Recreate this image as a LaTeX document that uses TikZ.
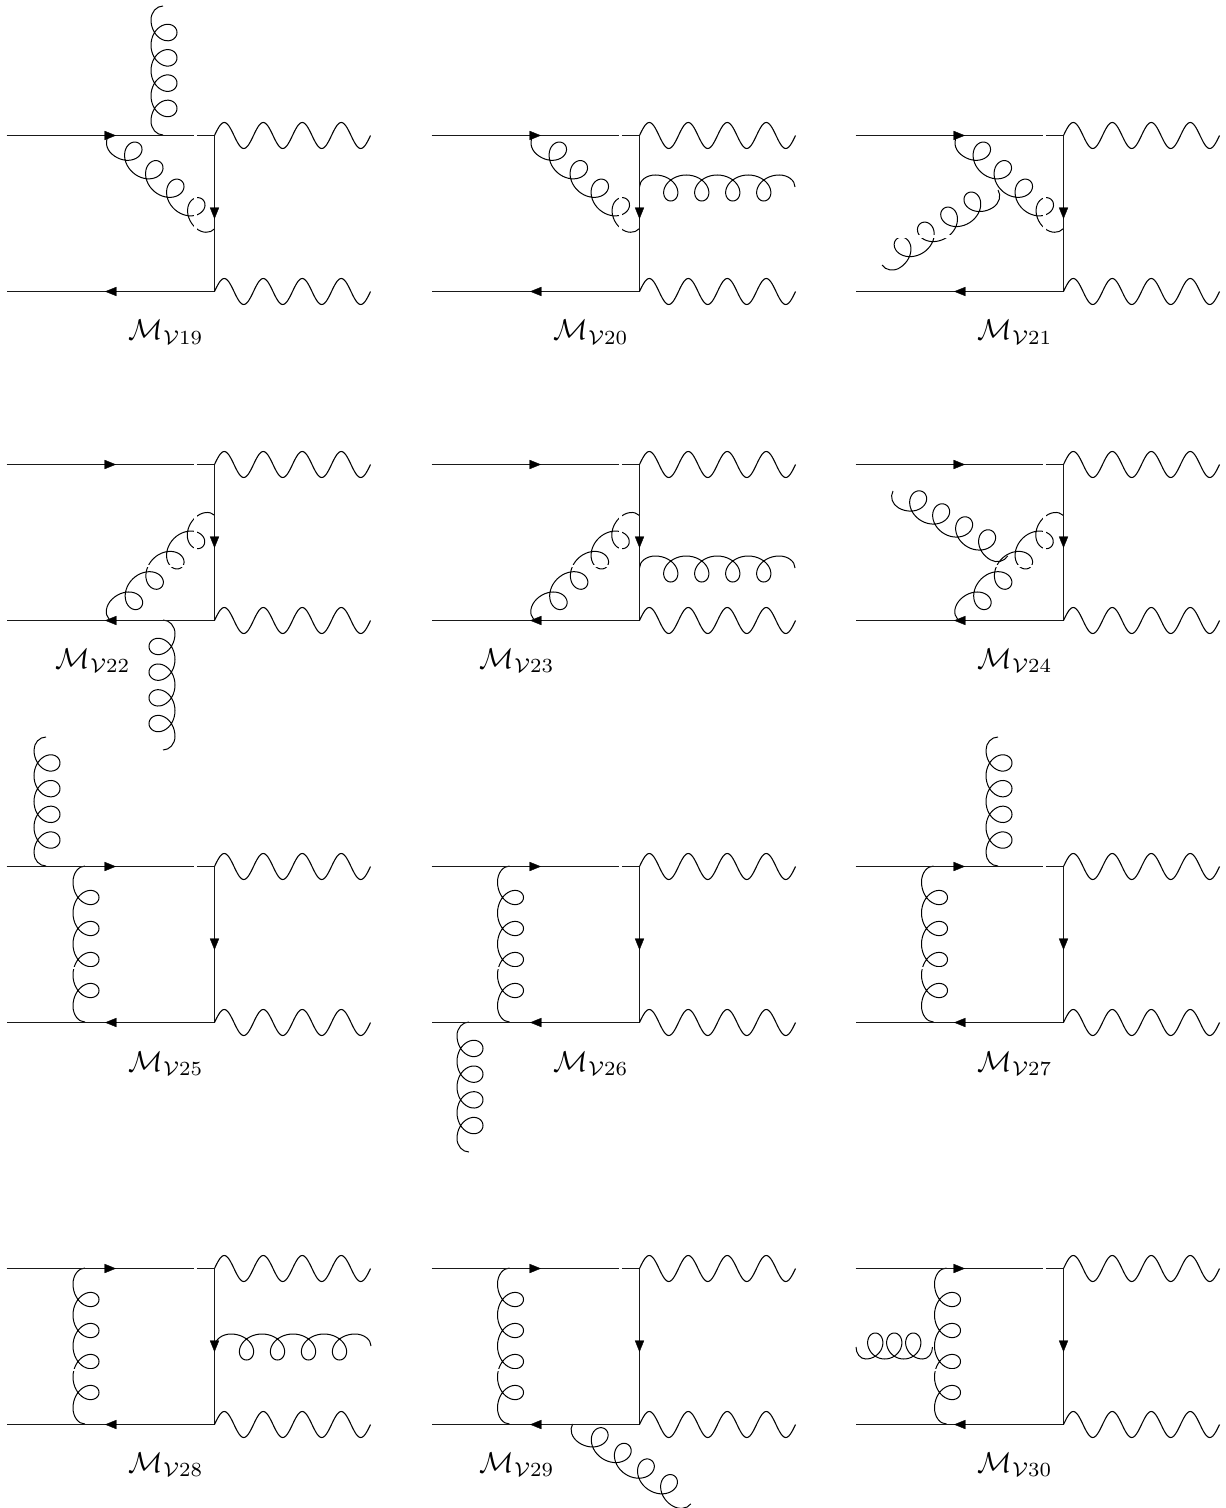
\documentclass[tikz,border=0pt]{standalone}
\usetikzlibrary{arrows.meta}
\tikzset{
  px/.style={x=.75pt,y=-.75pt},
  fermion/.style={line width=1pt,black!90},
  fermiontip/.style={line width=.3pt,black,-{Triangle[length=8.6pt,width=6.9pt]}},
  boson/.style={line width=.8pt,black},
  gluonline/.style={line width=.75pt,black},
  gaplabel/.style={inner sep=0pt,anchor=base west,scale=2.15},
  seamband/.style={fill=white,draw=none}
}
% #1 prefix, #2 x offset, #3 top y, #4 bottom y
\newcommand\basegraph[4]{%
  \coordinate (#1in)  at (#2+7,#3);
  \coordinate (#1ta)  at (#2+105,#3);
  \coordinate (#1t)   at (#2+116.5,#3);
  \coordinate (#1gl)  at (#2+194,#3);
  \coordinate (#1gr)  at (#2+197.3,#3);
  \coordinate (#1tr)  at (#2+215,#3);
  \coordinate (#1br)  at (#2+215,#4);
  \coordinate (#1out) at (#2+7,#4);
  \coordinate (#1ba)  at (#2+117,#4);
  \coordinate (#1b)   at (#2+105.5,#4);
  \coordinate (#1va)  at (#2+215,{(#3+#4)/2-6});
  \coordinate (#1v)   at (#2+215,{(#3+#4)/2+5.5});
  \draw[fermion] (#1in) -- (#1gl);
  \draw[fermion] (#1gr) -- (#1tr);
  \draw[fermion] (#1tr) -- (#1br);
  \draw[fermion] (#1br) -- (#1out);
  \draw[fermiontip] (#1ta) -- (#1t);
  \draw[fermiontip] (#1va) -- (#1v);
  \draw[fermiontip] (#1ba) -- (#1b);
  \draw[boson,shift={(#1tr)}] plot[domain=0:1440,samples=145,variable=\t] ({\t*0.108333},{-13*sin(\t)});
  \draw[boson,shift={(#1br)}] plot[domain=0:1440,samples=145,variable=\t] ({\t*0.108333},{-13*sin(\t)});
}
% [#1 sway], #2 from, #3 to, #4 loops, #5 pitch, #6 side (+1: loops on the left of the travel)
\newcommand\gluon[6][14]{%
  \pgfpointanchor{#2}{center}\pgfgetlastxy\gax\gay
  \pgfpointanchor{#3}{center}\pgfgetlastxy\gbx\gby
  \pgfmathsetmacro\gL{veclen(\gbx-\gax,\gby-\gay)/0.75}
  \pgfmathsetmacro\gang{atan2(\gby-\gay,\gbx-\gax)}
  \pgfmathsetmacro\gE{(\gL-(#4-1)*#5)/2}
  \pgfmathsetmacro\gsa{\gE-#5/2}
  \pgfmathsetmacro\gca{\gsa*.45}
  \pgfmathsetmacro\gcb{\gL-\gca}
  \pgfmathsetmacro\gw{-12*#6}
  \pgfmathsetmacro\gwc{\gw*.55}
  \pgfmathsetmacro\gtm{360*(#4-1)+180}
  \pgfmathtruncatemacro\gns{36*#4+1}
  \begin{scope}[shift={(#2)},rotate=\gang,x=.75pt,y=.75pt]
    \draw[gluonline] (0,0) .. controls (0,\gwc) and (\gca,\gw) .. (\gsa,\gw)
      -- plot[domain=-180:\gtm,samples=\gns,variable=\t]
         ({\gE+\t/360*#5-#1*sin(\t)},{#6*(13*(1+cos(\t))-12)})
      .. controls (\gcb,\gw) and (\gL,\gwc) .. (\gL,0);
  \end{scope}%
}
% the thin breaks that run through each diagram: #1 x offset, #2 top y
\newcommand\seam[2]{%
  \fill[seamband] (#1+194,#2+2) rectangle (#1+197.3,#2+102.5);
  \fill[seamband] (#1+20,#2+100) rectangle (#1+197.3,#2+102.5);
}
\newcommand\mlabel[4]{\node[gaplabel] (#1) at (#2,#3) {$\mathcal{M}_{\mathcal{V}#4}$};}
\begin{document}
\begin{tikzpicture}[px]
\useasboundingbox (0,0) rectangle (1225,1508);
% row 1
\coordinate (a1) at (163,135); \coordinate (a2) at (163,6);
\gluon{a1}{a2}{4}{25.3}{-1}
\coordinate (a3) at (109,135.5); \coordinate (a4) at (215,229);
\gluon{a3}{a4}{4}{28}{1}
\coordinate (b1) at (533.5,135.5); \coordinate (b2) at (639.5,229);
\gluon{b1}{b2}{4}{28}{1}
\coordinate (b3) at (639.5,187); \coordinate (b4) at (795,187);
\gluon{b3}{b4}{4}{31}{-1}
\coordinate (c1) at (957.5,135.5); \coordinate (c2) at (1063.5,229);
\gluon{c1}{c2}{4}{28}{1}
\coordinate (c3) at (998,190); \coordinate (c4) at (882,265);
\gluon{c3}{c4}{4}{27.7}{-1}
\seam{0}{135.5}\seam{424.5}{135.5}\seam{848.5}{135.5}
\basegraph{A}{-.5}{135.5}{291.5}
\basegraph{B}{424.5}{135.5}{291.5}
\basegraph{C}{848.5}{135.5}{291.5}
\mlabel{la}{128}{340}{19}
\mlabel{lb}{553}{340}{20}
\mlabel{lc}{977}{340}{21}
% row 2
\coordinate (d1) at (109,619); \coordinate (d2) at (215,515);
\gluon{d1}{d2}{4}{29}{-1}
\coordinate (d3) at (163,620); \coordinate (d4) at (163,750);
\gluon{d3}{d4}{4}{25.7}{-1}
\coordinate (e1) at (533.5,619); \coordinate (e2) at (639.5,515);
\gluon{e1}{e2}{4}{29}{-1}
\coordinate (e3) at (639.5,568); \coordinate (e4) at (795,568);
\gluon{e3}{e4}{4}{31}{-1}
\coordinate (f1) at (957.5,619); \coordinate (f2) at (1063.5,515);
\gluon{f1}{f2}{4}{29}{-1}
\seam{0}{464.5}\seam{424.5}{464.5}\seam{848.5}{464.5}
\coordinate (f3) at (893,491); \coordinate (f4) at (1008,556);
\gluon{f3}{f4}{4}{26.4}{1}
\basegraph{D}{-.5}{464.5}{620.5}
\basegraph{E}{424.5}{464.5}{620.5}
\basegraph{F}{848.5}{464.5}{620.5}
\mlabel{ld}{55}{668}{22}
\mlabel{le}{479}{668}{23}
\mlabel{lf}{977}{668}{24}
% row 3
\coordinate (g1) at (85,866); \coordinate (g2) at (85,1022);
\gluon{g1}{g2}{4}{31}{1}
\coordinate (g3) at (46,866); \coordinate (g4) at (46,737);
\gluon{g3}{g4}{4}{25.7}{-1}
\coordinate (h1) at (509.5,866); \coordinate (h2) at (509.5,1022);
\gluon{h1}{h2}{4}{31}{1}
\coordinate (h3) at (469,1022); \coordinate (h4) at (469,1152);
\gluon{h3}{h4}{4}{25.7}{1}
\coordinate (i1) at (933.5,866); \coordinate (i2) at (933.5,1022);
\gluon{i1}{i2}{4}{31}{1}
\coordinate (i3) at (998,866); \coordinate (i4) at (998,737);
\gluon{i3}{i4}{4}{25.7}{-1}
\seam{0}{866.5}\seam{424.5}{866.5}\seam{848.5}{866.5}
\basegraph{G}{-.5}{866.5}{1022.5}
\basegraph{H}{424.5}{866.5}{1022.5}
\basegraph{I}{848.5}{866.5}{1022.5}
\mlabel{lg}{128}{1071}{25}
\mlabel{lh}{553}{1071}{26}
\mlabel{li}{977}{1071}{27}
% row 4
\coordinate (j1) at (85,1268); \coordinate (j2) at (85,1424);
\gluon{j1}{j2}{4}{31}{1}
\coordinate (j3) at (215,1346); \coordinate (j4) at (371,1346);
\gluon{j3}{j4}{4}{31}{-1}
\coordinate (k1) at (509.5,1268); \coordinate (k2) at (509.5,1424);
\gluon{k1}{k2}{4}{31}{1}
\coordinate (k3) at (572.7,1424); \coordinate (k4) at (691,1504);
\gluon{k3}{k4}{4}{27.9}{1}
\coordinate (l1) at (946.5,1268); \coordinate (l2) at (946.5,1424);
\gluon{l1}{l2}{4}{31}{1}
\coordinate (l3) at (932.5,1347); \coordinate (l4) at (856,1347);
\gluon[12]{l3}{l4}{3}{19}{-1}
\seam{0}{1268.5}\seam{424.5}{1268.5}\seam{848.5}{1268.5}
\basegraph{J}{-.5}{1268.5}{1424.5}
\basegraph{K}{424.5}{1268.5}{1424.5}
\basegraph{L}{848.5}{1268.5}{1424.5}
\mlabel{lj}{128}{1472}{28}
\mlabel{lk}{479}{1472}{29}
\mlabel{ll}{977}{1472}{30}
\end{tikzpicture}
\end{document}
